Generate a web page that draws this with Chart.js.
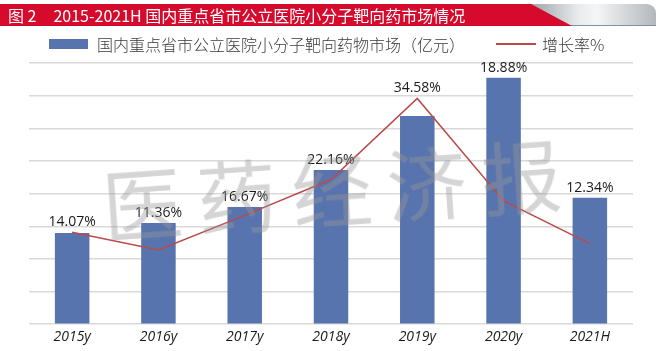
<!DOCTYPE html>
<html>
<head>
<meta charset="utf-8">
<script src="https://cdn.jsdelivr.net/npm/chart.js@4"></script>
<style>
  html, body { margin: 0; padding: 0; background: #fff; }
  .wrap { position: relative; width: 662px; height: 351px; overflow: hidden; font-family: "Noto Sans CJK SC", "Noto Sans", sans-serif; }
  .title-grey { position: absolute; left: 500px; top: 4px; width: 156px; height: 22px; border-top-right-radius: 9px;
    background: linear-gradient(to right, #8e959b 0%, #a9afb4 25%, #e9ebed 50%, #f4f5f6 62%, #b3b8bc 100%);
    border-bottom: 1px solid #7e90ab; box-sizing: border-box; }
  .title-red { position: absolute; left: 0; top: 4px; width: 572px; height: 22px; background: #d50a2d;
    clip-path: polygon(0 0, 531px 0, 572px 100%, 0 100%); }
  .title-text { position: absolute; left: 8px; top: 4px; height: 22px; line-height: 22px; color: #fff; font-size: 16px; white-space: nowrap; }
  .title-text .num { margin-left: 17px; }
  .legend { position: absolute; top: 34px; left: 0; height: 20px; font-size: 16px; color: #3a3a3a; white-space: nowrap; font-weight: 300; }
  .legend .box { position: absolute; left: 49px; top: 5px; width: 39px; height: 10px; background: #5874ae; }
  .legend .lbl1 { position: absolute; left: 97px; top: 0; line-height: 20px; }
  .legend .ln { position: absolute; left: 496px; top: 9px; width: 40px; height: 2px; background: #bb4a48; }
  .legend .lbl2 { position: absolute; left: 542px; top: 0; line-height: 20px; }
  canvas { position: absolute; left: 0; top: 0; }
  .watermark { position: absolute; left: 102px; top: 162px; font-size: 80px; line-height: 1; letter-spacing: 15px;
    color: rgba(150, 150, 150, 0.4); transform: rotate(-4deg); transform-origin: 0 50%; white-space: nowrap; pointer-events: none; }
</style>
</head>
<body>
<div class="wrap">
  <canvas id="marketChart" width="662" height="351"></canvas>
  <div class="title-grey"></div>
  <div class="title-red"></div>
  <div class="title-text">图 2<span class="num">2015-2021H 国内重点省市公立医院小分子靶向药市场情况</span></div>
  <div class="legend">
    <div class="box"></div>
    <div class="lbl1">国内重点省市公立医院小分子靶向药物市场（亿元）</div>
    <div class="ln"></div>
    <div class="lbl2">增长率%</div>
  </div>
  <div class="watermark">医药经济报</div>
</div>
<script>
// values
const years = ['2015y', '2016y', '2017y', '2018y', '2019y', '2020y', '2021H'];
const marketSize = [27.9, 31.0, 35.9, 47.2, 63.8, 75.5, 38.7];
const growthRate = [14.07, 11.36, 16.67, 22.16, 34.58, 18.88, 12.34];

// growth labels sit above whichever is higher: the bar or the line point
const rateLabels = {
  id: 'rateLabels',
  afterDatasetsDraw(chart) {
    const c = chart.ctx;
    const bars = chart.getDatasetMeta(0).data;
    const pts = chart.getDatasetMeta(1).data;
    c.save();
    c.font = '14px "Open Sans", sans-serif';
    c.fillStyle = '#1a1a1a';
    c.textAlign = 'center';
    c.textBaseline = 'bottom';
    growthRate.forEach((v, i) => {
      const top = Math.min(bars[i].y, pts[i].y);
      c.fillText(v.toFixed(2) + '%', bars[i].x, top - 3);
    });
    c.restore();
  }
};

document.addEventListener('DOMContentLoaded', function() {
  const ctx = document.getElementById('marketChart');

  new Chart(ctx, {
    type: 'bar',
    data: {
      labels: years,
      datasets: [{
        label: '国内重点省市公立医院小分子靶向药物市场（亿元）',
        data: marketSize,
        backgroundColor: '#5874ae',
        categoryPercentage: 0.8,
        barPercentage: 0.5,
        yAxisID: 'y',
        order: 1,
      }, {
        type: 'line',
        label: '增长率%',
        data: growthRate,
        borderColor: '#bb4a48',
        borderWidth: 1.5,
        pointRadius: 0,
        tension: 0,
        fill: false,
        yAxisID: 'y1',
        order: 0,
      }]
    },
    options: {
      responsive: false,
      animation: false,
      layout: {
        padding: { top: 63, left: 29, right: 29, bottom: 2 }
      },
      plugins: {
        legend: { display: false },
        tooltip: { enabled: false },
      },
      scales: {
        x: {
          grid: { display: false, drawTicks: false },
          border: { display: false },
          ticks: {
            color: '#1a1a1a',
            padding: 4,
            font: { family: '"Open Sans", sans-serif', size: 14, style: 'italic' },
          },
        },
        y: {
          min: 0,
          max: 80,
          border: { display: false },
          grid: { color: '#d9d9d9', lineWidth: 1.5, drawTicks: false },
          ticks: { display: false, stepSize: 10 },
        },
        y1: {
          display: false,
          min: 0,
          max: 40,
        },
      },
    },
    plugins: [rateLabels],
  });
});
</script>
</body>
</html>
